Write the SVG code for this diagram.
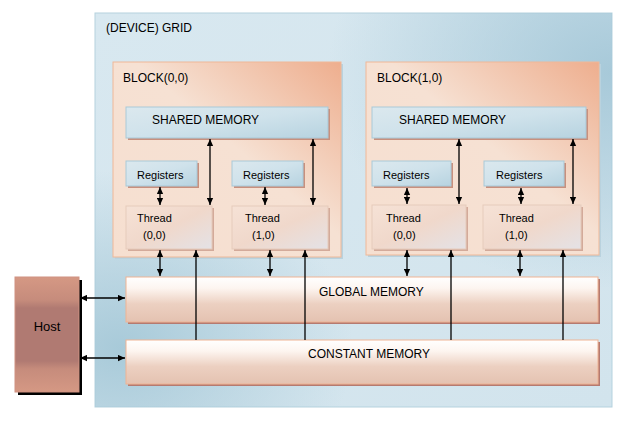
<svg xmlns="http://www.w3.org/2000/svg" width="638" height="434" viewBox="0 0 638 434">
<defs>
<style>
text{font-family:"Liberation Sans",Arial,sans-serif;fill:#000}
.t12{font-size:12px}
.t11{font-size:11px}
.t13{font-size:13px}
.c{stroke:#000;stroke-width:1.3;fill:none}
.blue{fill:url(#blueG);stroke:#a9c9d8;stroke-width:1}
.bsh{fill:#c8907e}
.thr{fill:url(#thrG);stroke:#e6cbbb;stroke-width:1}
.tsh{fill:#d3aa9a}
.mem{fill:url(#memG);stroke:#efb394;stroke-width:1}
.msh{fill:#b57a70}
.blk{fill:url(#blkG);stroke:#efb898;stroke-width:1}
</style>
<marker id="a" viewBox="0 0 8 8" refX="8" refY="4" markerWidth="7" markerHeight="7" markerUnits="userSpaceOnUse" orient="auto-start-reverse"><path d="M0,0.4 L8,4 L0,7.6z" fill="#000"/></marker>
<linearGradient id="gridG" x1="0" y1="0" x2="1" y2="1"><stop offset="0" stop-color="#d8e8f0"/><stop offset="1" stop-color="#d2e4ed"/></linearGradient>
<radialGradient id="gridTR" cx="1" cy="0.15" r="0.55"><stop offset="0" stop-color="#a7c9d9" stop-opacity="1"/><stop offset="1" stop-color="#a7c9d9" stop-opacity="0"/></radialGradient>
<radialGradient id="gridBL" cx="0.05" cy="0.85" r="0.45"><stop offset="0" stop-color="#a8cad9" stop-opacity="1"/><stop offset="1" stop-color="#a8cad9" stop-opacity="0"/></radialGradient>
<linearGradient id="blkG" x1="0" y1="1" x2="1" y2="0"><stop offset="0" stop-color="#f6dfd0"/><stop offset="0.55" stop-color="#f6e1d3"/><stop offset="1" stop-color="#eeae8e"/></linearGradient>
<linearGradient id="blueG" x1="0" y1="0" x2="1" y2="1"><stop offset="0" stop-color="#dbe8ee"/><stop offset="0.5" stop-color="#cfe2eb"/><stop offset="1" stop-color="#b7d3e0"/></linearGradient>
<linearGradient id="thrG" x1="0" y1="0" x2="1" y2="1"><stop offset="0" stop-color="#f6e2d6"/><stop offset="0.5" stop-color="#f0d8cb"/><stop offset="1" stop-color="#e4e2e6"/></linearGradient>
<linearGradient id="memG" x1="0" y1="0" x2="0" y2="1"><stop offset="0" stop-color="#ffffff"/><stop offset="0.25" stop-color="#fdf5f0"/><stop offset="0.6" stop-color="#ecd0c1"/><stop offset="1" stop-color="#e4c2b1"/></linearGradient>
<linearGradient id="hostG" x1="0" y1="0" x2="0" y2="1"><stop offset="0" stop-color="#d59884"/><stop offset="0.2" stop-color="#c68c7c"/><stop offset="0.27" stop-color="#b07a72"/><stop offset="0.73" stop-color="#b07a72"/><stop offset="0.8" stop-color="#c68c7c"/><stop offset="1" stop-color="#d59884"/></linearGradient>
</defs>
<rect width="638" height="434" fill="#fff"/>

<g id="grid">
<rect x="95" y="13" width="517" height="394" fill="url(#gridG)" stroke="#b5d2de"/>
<rect x="95" y="13" width="517" height="394" fill="url(#gridTR)"/>
<rect x="95" y="13" width="517" height="394" fill="url(#gridBL)"/>
<text class="t12" x="106" y="32">(DEVICE) GRID</text>
</g>

<g id="block00">
<rect x="115" y="64" width="228" height="195" fill="#b9d2de"/>
<rect class="blk" x="113" y="62" width="228" height="195"/>
<text class="t12" x="123" y="82">BLOCK(0,0)</text>
</g>
<g id="block10">
<rect x="368" y="64" width="233" height="193" fill="#b9d2de"/>
<rect class="blk" x="366" y="62" width="233" height="193"/>
<text class="t12" x="377" y="82">BLOCK(1,0)</text>
</g>

<g id="shared00">
<rect class="bsh" x="128" y="109" width="202" height="31"/>
<rect class="blue" x="126" y="107" width="202" height="31"/>
<text class="t12" x="152" y="124">SHARED MEMORY</text>
</g>
<g id="shared10">
<rect class="bsh" x="374" y="109" width="214" height="31"/>
<rect class="blue" x="372" y="107" width="214" height="31"/>
<text class="t12" x="399" y="124">SHARED MEMORY</text>
</g>

<g id="regs00a">
<rect class="bsh" x="128" y="163" width="71" height="25"/>
<rect class="blue" x="126" y="161" width="71" height="25"/>
<text class="t11" x="137" y="179">Registers</text>
</g>
<g id="regs00b">
<rect class="bsh" x="234" y="163" width="71" height="25"/>
<rect class="blue" x="232" y="161" width="71" height="25"/>
<text class="t11" x="243" y="179">Registers</text>
</g>
<g id="regs10a">
<rect class="bsh" x="374" y="163" width="79" height="25"/>
<rect class="blue" x="372" y="161" width="79" height="25"/>
<text class="t11" x="383" y="179">Registers</text>
</g>
<g id="regs10b">
<rect class="bsh" x="486" y="163" width="80" height="25"/>
<rect class="blue" x="484" y="161" width="80" height="25"/>
<text class="t11" x="496" y="179">Registers</text>
</g>

<g id="thread00a">
<rect class="tsh" x="128" y="208" width="86" height="43"/>
<rect class="thr" x="126" y="206" width="86" height="43"/>
<text class="t11" x="137" y="222">Thread</text>
<text class="t11" x="143" y="239">(0,0)</text>
</g>
<g id="thread00b">
<rect class="tsh" x="234" y="208" width="96" height="43"/>
<rect class="thr" x="232" y="206" width="96" height="43"/>
<text class="t11" x="245" y="222">Thread</text>
<text class="t11" x="252" y="239">(1,0)</text>
</g>
<g id="thread10a">
<rect class="tsh" x="374" y="207" width="94" height="44"/>
<rect class="thr" x="372" y="205" width="94" height="44"/>
<text class="t11" x="386" y="222">Thread</text>
<text class="t11" x="393" y="239">(0,0)</text>
</g>
<g id="thread10b">
<rect class="tsh" x="485" y="207" width="98" height="44"/>
<rect class="thr" x="483" y="205" width="98" height="44"/>
<text class="t11" x="499" y="222">Thread</text>
<text class="t11" x="505" y="239">(1,0)</text>
</g>

<g id="global">
<rect class="msh" x="128" y="279" width="472" height="45"/>
<rect class="mem" x="126" y="277" width="472" height="45"/>
<text class="t12" x="319" y="296">GLOBAL MEMORY</text>
</g>
<g id="constant">
<rect class="msh" x="128" y="342" width="472" height="44"/>
<rect class="mem" x="126" y="340" width="472" height="44"/>
<text class="t12" x="308" y="358">CONSTANT MEMORY</text>
</g>

<g id="host">
<rect x="18" y="280" width="64" height="115" fill="#000"/>
<rect x="15" y="277" width="64" height="115" fill="url(#hostG)" stroke="#d09282"/>
<text class="t13" x="47" y="331" text-anchor="middle">Host</text>
</g>

<g id="connectors">
<line class="c" x1="210" y1="139" x2="210" y2="205" marker-start="url(#a)" marker-end="url(#a)"/>
<line class="c" x1="313" y1="139" x2="313" y2="205" marker-start="url(#a)" marker-end="url(#a)"/>
<line class="c" x1="459" y1="139" x2="459" y2="204" marker-start="url(#a)" marker-end="url(#a)"/>
<line class="c" x1="573" y1="139" x2="573" y2="204" marker-start="url(#a)" marker-end="url(#a)"/>
<line class="c" x1="160" y1="187" x2="160" y2="205" marker-start="url(#a)" marker-end="url(#a)"/>
<line class="c" x1="265" y1="187" x2="265" y2="205" marker-start="url(#a)" marker-end="url(#a)"/>
<line class="c" x1="407" y1="188" x2="407" y2="204" marker-start="url(#a)" marker-end="url(#a)"/>
<line class="c" x1="521" y1="188" x2="521" y2="204" marker-start="url(#a)" marker-end="url(#a)"/>
<line class="c" x1="160" y1="250" x2="160" y2="276" marker-start="url(#a)" marker-end="url(#a)"/>
<line class="c" x1="270" y1="250" x2="270" y2="276" marker-start="url(#a)" marker-end="url(#a)"/>
<line class="c" x1="407" y1="250" x2="407" y2="276" marker-start="url(#a)" marker-end="url(#a)"/>
<line class="c" x1="520" y1="250" x2="520" y2="276" marker-start="url(#a)" marker-end="url(#a)"/>
<line class="c" x1="196" y1="340" x2="196" y2="250" marker-end="url(#a)"/>
<line class="c" x1="305" y1="340" x2="305" y2="250" marker-end="url(#a)"/>
<line class="c" x1="451" y1="340" x2="451" y2="250" marker-end="url(#a)"/>
<line class="c" x1="563" y1="340" x2="563" y2="250" marker-end="url(#a)"/>
<line class="c" x1="80" y1="298" x2="125" y2="298" marker-start="url(#a)" marker-end="url(#a)"/>
<line class="c" x1="80" y1="358" x2="125" y2="358" marker-start="url(#a)" marker-end="url(#a)"/>
</g>
</svg>
